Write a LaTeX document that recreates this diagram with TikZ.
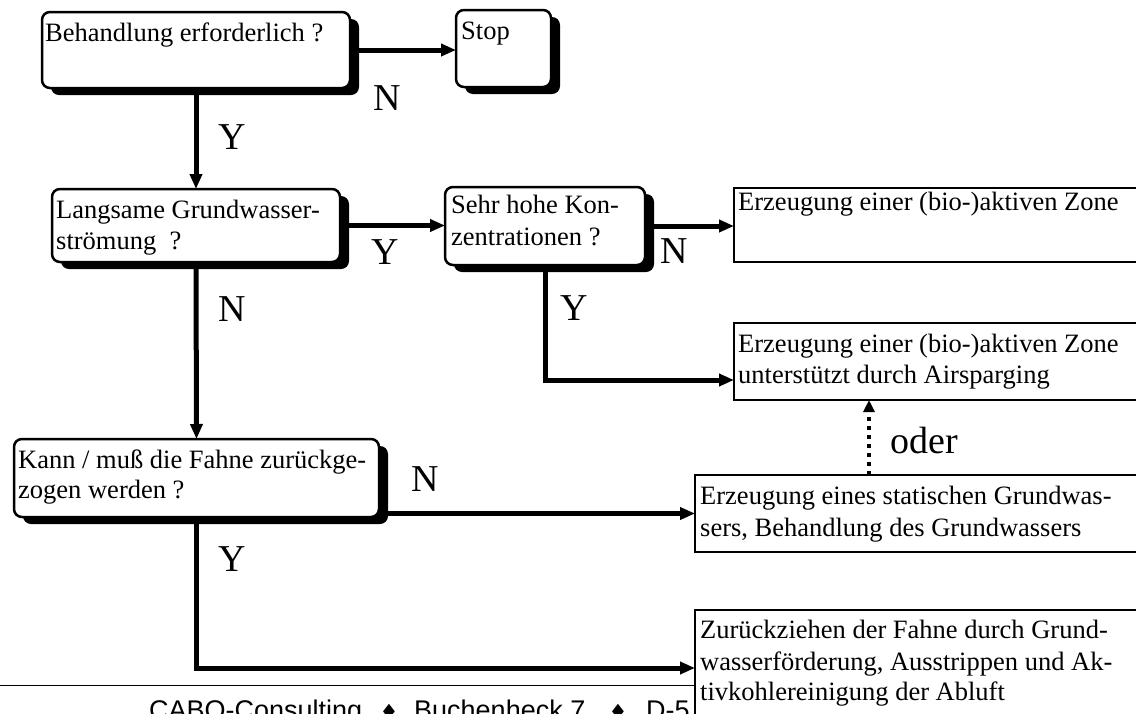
\documentclass[tikz,border=0pt]{standalone}
\usepackage{fontspec}
\setmainfont{Liberation Serif}
\newfontfamily\footfont{Liberation Sans}
\newfontfamily\symfont{DejaVu Sans}
\usetikzlibrary{arrows.meta,shadows,calc}
\begin{document}
\begin{tikzpicture}[x=1pt,y=-1pt,
  rbox/.style={draw, line width=2.5pt, rounded corners=8pt, fill=white, inner sep=0pt, outer sep=0pt,
    drop shadow={shadow xshift=9pt, shadow yshift=-7pt, opacity=1, fill=black}},
  sbox/.style={draw, line width=2.8pt, fill=white, inner sep=0pt, outer sep=0pt},
  txt/.style={anchor=base west, inner sep=0pt, font=\fontsize{26.5}{31}\selectfont},
  yn/.style={anchor=base, inner sep=0pt, font=\fontsize{38}{40}\selectfont},
  foot/.style={anchor=base west, inner sep=0pt, font=\footfont\fontsize{27}{30}\selectfont},
  dia/.style={anchor=base, inner sep=0pt, font=\symfont\fontsize{21}{24}\selectfont},
  conn/.style={line width=5pt, -{Triangle[length=15pt,width=12pt]}},
  dotconn/.style={line width=4.5pt, dash pattern=on 4.5pt off 4.5pt, -{Triangle[length=12pt,width=11pt]}},
]
\useasboundingbox (0,0) rectangle (1136,713);
\clip (0,0) rectangle (1136,713);
\fill[white] (0,0) rectangle (1136,713);

% footer
\draw[line width=1pt] (0,685) -- (700,685);
\node[foot] (f1) at (149,719) {CABO-Consulting};
\node[dia] (f2) at (389,719) {♦};
\node[foot] (f3) at (414,719) {Buchenheck 7};
\node[dia] (f4) at (618,719) {♦};
\node[foot] (f5) at (646,719) {D-5};

% rounded decision boxes
\node[rbox, minimum width=308pt, minimum height=76pt] (b1) at (196,50) {};
\node[rbox, minimum width=95pt, minimum height=77pt] (stop) at (503.5,48.5) {};
\node[rbox, minimum width=288pt, minimum height=73pt] (b2) at (196,225.5) {};
\node[rbox, minimum width=200pt, minimum height=78pt] (b3) at (545,226) {};
\node[rbox, minimum width=365pt, minimum height=78pt] (b6) at (196.5,478) {};

% result boxes
\node[sbox, minimum width=426pt, minimum height=74pt] (b4) at (947,225) {};
\node[sbox, minimum width=426pt, minimum height=77pt] (b5) at (947,361.5) {};
\node[sbox, minimum width=465pt, minimum height=77pt] (b7) at (927.5,513.5) {};
\node[sbox, minimum width=465pt, minimum height=170pt] (b8) at (927.5,695) {};

% texts
\node[txt] (t1) at (45,41) {Behandlung erforderlich ?};
\node[txt] (t2) at (461,39) {Stop};
\node[txt] (t3a) at (56,218) {Langsame Grundwasser-};
\node[txt] (t3b) at (56,249) {strömung~~?};
\node[txt] (t4a) at (451,213) {Sehr hohe Kon-};
\node[txt] (t4b) at (451,245) {zentrationen ?};
\node[txt] (t5) at (738,210) {Erzeugung einer (bio-)aktiven Zone};
\node[txt] (t6a) at (738,352) {Erzeugung einer (bio-)aktiven Zone};
\node[txt] (t6b) at (738,383) {unterstützt durch Airsparging};
\node[txt] (t7a) at (18,468) {Kann / muß die Fahne zurückge-};
\node[txt] (t7b) at (18,498) {zogen werden ?};
\node[txt] (t8a) at (700,504) {Erzeugung eines statischen Grundwas-};
\node[txt] (t8b) at (700,536) {sers, Behandlung des Grundwassers};
\node[txt] (t9a) at (700,638) {Zurückziehen der Fahne durch Grund-};
\node[txt] (t9b) at (700,670) {wasserförderung, Ausstrippen und Ak-};
\node[txt] (t9c) at (700,700) {tivkohlereinigung der Abluft};

% connectors
\draw[conn] (b1.east) -- (b1.east -| stop.west);
\draw[conn] (b1.south) -- (b2.north);
\draw[conn] (b2.east) -- (b2.east -| b3.west);
\draw[conn] (b3.east) -- (b3.east -| b4.west);
\draw[conn] (b3.south) |- ([yshift=-57pt]b5.north west);
\draw[conn] (b2.south) -- (b6.north);
\draw[conn] (b7.west -| b6.east) -- (b7.west);
\draw[conn] (b6.south) |- ([yshift=-58pt]b8.north west);
\coordinate (dotS) at ([xshift=174pt]b7.north west);
\draw[dotconn] (dotS) -- (dotS |- b5.south);

% labels
\node[yn] (l1) at (387,110) {N};
\node[yn] (l2) at (232,149) {Y};
\node[yn] (l3) at (385,264) {Y};
\node[yn] (l4) at (674,263) {N};
\node[yn] (l5) at (232,321) {N};
\node[yn] (l6) at (574,320) {Y};
\node[yn] (l7) at (425,491) {N};
\node[yn] (l8) at (232,571) {Y};
\node[anchor=base west, inner sep=0pt, font=\fontsize{38}{40}\selectfont] (oder) at (890,453) {oder};
\end{tikzpicture}
\end{document}
